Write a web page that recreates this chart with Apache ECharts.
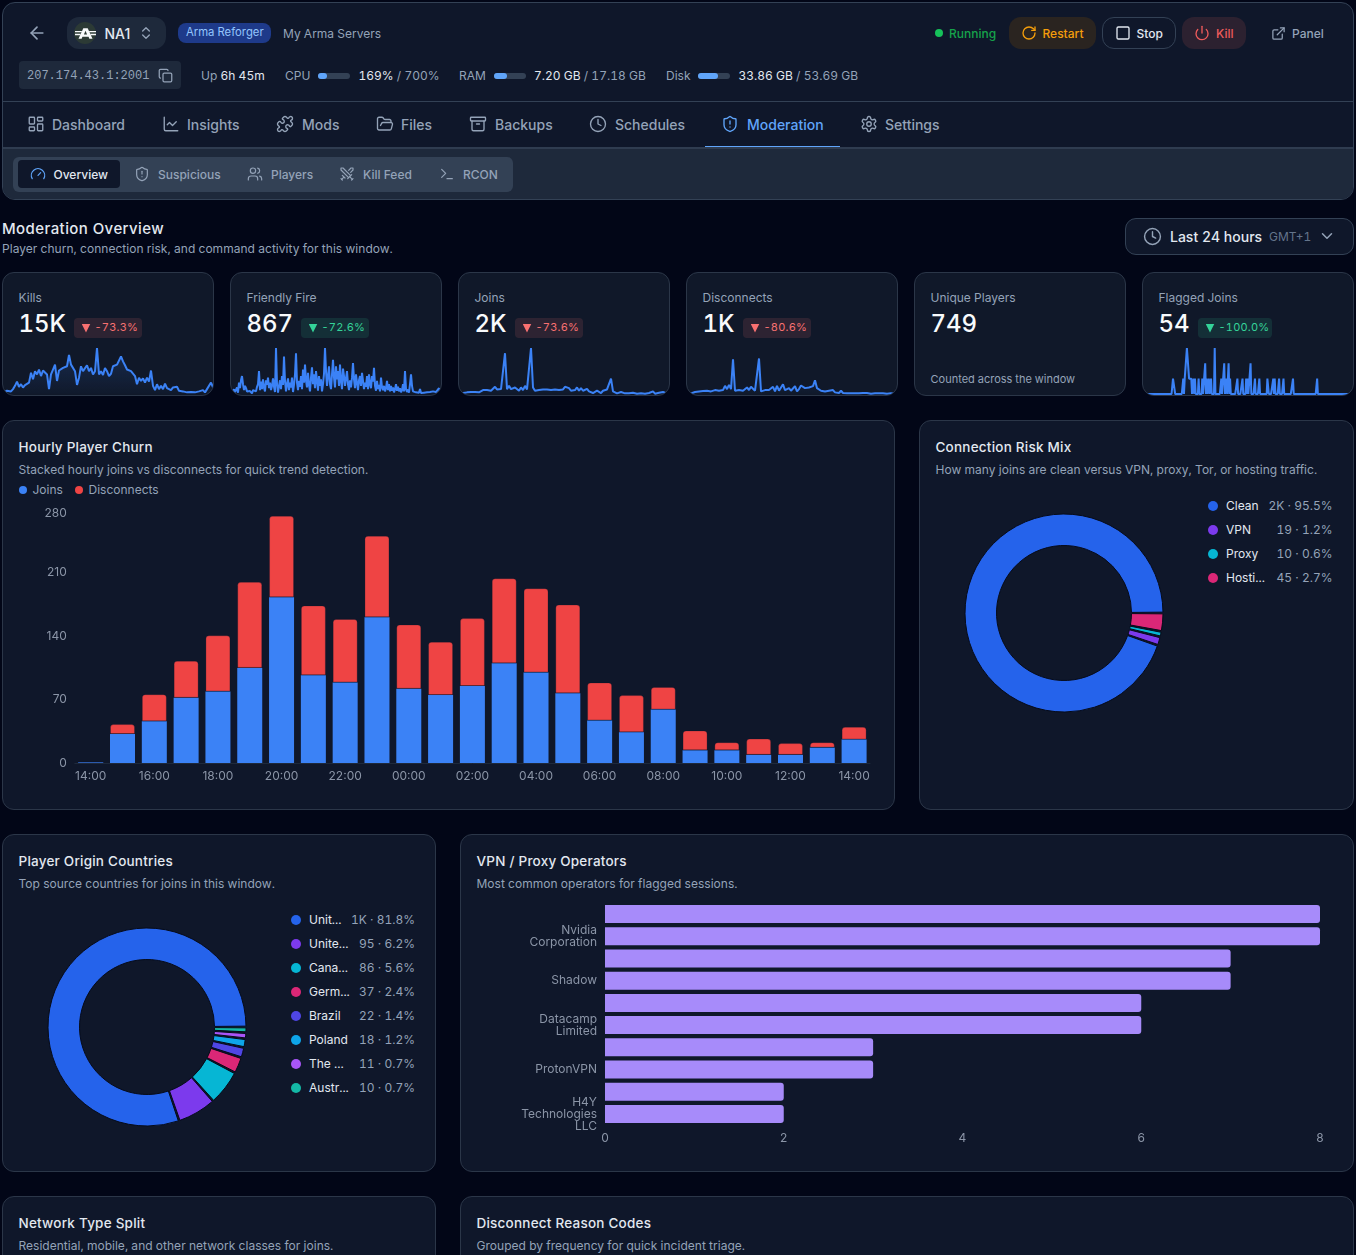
<!DOCTYPE html>
<html>
<head>
<meta charset="utf-8">
<script src="https://cdn.jsdelivr.net/npm/echarts@6/dist/echarts.min.js"></script>
<style>
html,body{margin:0;padding:0;background:#020617;width:1356px;height:1255px;overflow:hidden;font-family:Inter,"Noto Sans",sans-serif;}
#root{position:relative;width:1356px;height:1255px;overflow:hidden;}
.t{position:absolute;white-space:nowrap;transform:translateY(-50%);line-height:1.2;font-variant-numeric:tabular-nums;}
.b{position:absolute;box-sizing:border-box;}
.c{position:absolute;}
.card{position:absolute;box-sizing:border-box;background:#0f172a;border:1px solid #2b3648;border-radius:12px;overflow:hidden;}
svg.ic{position:absolute;fill:none;stroke-linecap:round;stroke-linejoin:round;stroke-width:2;}
</style>
</head>
<body>
<div id="root"></div>
<script>
/* ---------- chart values ---------- */
const churnHours = ['14:00','15:00','16:00','17:00','18:00','19:00','20:00','21:00','22:00','23:00','00:00','01:00','02:00','03:00','04:00','05:00','06:00','07:00','08:00','09:00','10:00','11:00','12:00','13:00','14:00'];
const churnJoins = [1,32,46,72,79,105,183,97,89,161,82,75,85,110,100,77,47,34,59,14,14,9,9,17,26];
const churnDisconnects = [0,11,30,41,62,95,90,77,70,90,71,59,75,94,93,98,42,41,25,22,9,18,13,6,14];
const churnTicks = [0,70,140,210,280];

const riskNames = ['Clean','VPN','Proxy','Hosting'];
const riskLabels = ['Clean','VPN','Proxy','Hosti...'];
const riskValues = [1570,19,10,45];
const riskShown = ['2K · 95.5%','19 · 1.2%','10 · 0.6%','45 · 2.7%'];
const riskColors = ['#2563eb','#7c3aed','#06b6d4','#db2777'];

const countryNames = ['United States','United Kingdom','Canada','Germany','Brazil','Poland','The Netherlands','Australia'];
const countryLabels = ['Unit...','Unite...','Cana...','Germ...','Brazil','Poland','The ...','Austr...'];
const countryValues = [1254,95,86,37,22,18,11,10];
const countryShown = ['1K · 81.8%','95 · 6.2%','86 · 5.6%','37 · 2.4%','22 · 1.4%','18 · 1.2%','11 · 0.7%','10 · 0.7%'];
const countryColors = ['#2563eb','#7c3aed','#06b6d4','#db2777','#4f46e5','#0ea5e9','#a855f7','#14b8a6'];

/* bottom to top; names the axis skips are not readable in the picture */
const operatorNames = ['H4Y\nTechnologies\nLLC','','ProtonVPN','','Datacamp\nLimited','','Shadow','','Nvidia\nCorporation',''];
const operatorValues = [2,2,3,3,6,6,7,7,8,8];
const operatorTicks = [0,2,4,6,8];

const sparkKills = [5,8,10,4,8,15,25,38,22,30,20,27,30,35,65,45,70,60,75,55,72,78,60,15,60,75,90,40,72,70,80,75,85,120,90,85,70,28,50,85,70,68,88,70,80,60,70,141,60,70,58,80,70,55,62,85,80,90,85,115,100,88,75,80,70,75,55,30,50,40,48,35,50,38,72,25,12,30,15,25,15,32,18,20,12,20,15,22,10,14,8,5,5,3,6,3,5,4,8,6,12,5,15,20,35,20];
const sparkFriendly = [3,5,2,14,6,3,20,4,35,18,42,55,30,12,25,18,8,14,3,9,5,2,12,6,16,8,22,30,70,12,38,15,45,20,8,42,28,50,18,35,12,25,48,22,6,141,30,4,25,42,15,55,28,115,40,8,30,48,12,35,20,50,6,28,60,125,35,12,40,22,55,15,75,35,90,42,20,65,28,8,50,82,30,60,18,70,40,10,55,25,45,8,30,62,141,70,25,55,85,30,15,60,105,50,20,85,45,70,25,90,40,15,78,55,25,48,70,30,12,42,20,50,95,45,18,60,35,12,42,55,25,65,40,15,35,22,55,15,60,30,18,55,38,80,25,10,40,15,28,8,50,20,12,25,8,18,40,12,30,8,25,10,20,5,15,30,10,22,8,18,5,12,30,8,70,15,6,14,4,30,60,25,8,12,3,5,2,10,4,15,3,6,2,4,8,2,5,3,2,6,2,4,8,3,2,6,3,10,18,6,10];
const sparkJoins = [2,2,3,3,5,8,6,5,6,10,5,8,12,8,12,6,10,8,22,14,12,15,18,125,15,25,15,12,20,14,10,20,12,25,14,18,141,20,10,4,12,8,14,10,14,8,12,6,14,8,12,18,14,22,22,18,10,16,12,20,10,18,10,6,16,8,4,3,6,10,5,3,10,5,14,8,47,8,3,2,1,6,2,2,4,2,3,4,2,1,1,2,1,1,1,3,2,8,1,2,4,8,6,3,2,1];
const sparkDisconnects = [1,2,2,3,6,5,8,4,9,5,10,6,8,5,12,15,10,14,12,25,15,28,15,106,10,5,12,15,10,14,20,12,22,18,10,8,109,8,4,12,8,12,10,22,8,25,10,8,30,12,8,18,10,14,24,8,15,26,22,18,15,20,18,24,42,18,24,10,14,8,5,10,6,12,5,8,3,10,3,4,2,3,2,4,2,1,2,1,3,5,3,2,1,4,2,3,2,4,2,3,1,1,2,1,1,1];
const flaggedBuckets = [41,42,43,55,57,58,59,60,61,62,63,64,65,66,69,71,76,81,85,87,90,93,98,107,111,114,117,119,129,136,141,143,147,153,159,170,171,178,180,186,192,205,238];
const flaggedCounts  = [1,1,1,1,1,1,1,3,3,3,1,1,1,1,1,1,1,1,2,1,1,1,3,1,2,1,2,1,1,1,1,1,2,1,1,1,1,1,1,1,1,1,1];

/* ---------- page chrome ---------- */
const root = document.getElementById('root');
const ICONS = {
 back:'<path d="m12 19-7-7 7-7"/><path d="M19 12H5"/>',
 updown:'<path d="m7 15 5 5 5-5"/><path d="m7 9 5-5 5 5"/>',
 copy:'<rect width="14" height="14" x="8" y="8" rx="2"/><path d="M4 16c-1.1 0-2-.9-2-2V4c0-1.1.9-2 2-2h10c1.1 0 2 .9 2 2"/>',
 rotate:'<path d="M21 12a9 9 0 1 1-9-9c2.52 0 4.93 1 6.74 2.74L21 8"/><path d="M21 3v5h-5"/>',
 square:'<rect width="18" height="18" x="3" y="3" rx="2"/>',
 power:'<path d="M12 2v10"/><path d="M18.4 6.6a9 9 0 1 1-12.77.04"/>',
 ext:'<path d="M15 3h6v6"/><path d="M10 14 21 3"/><path d="M18 13v6a2 2 0 0 1-2 2H5a2 2 0 0 1-2-2V8a2 2 0 0 1 2-2h6"/>',
 dash:'<rect width="7" height="9" x="3" y="3" rx="1"/><rect width="7" height="5" x="14" y="3" rx="1"/><rect width="7" height="9" x="14" y="12" rx="1"/><rect width="7" height="5" x="3" y="16" rx="1"/>',
 chart:'<path d="M3 3v16a2 2 0 0 0 2 2h16"/><path d="m19 9-5 5-4-4-3 3"/>',
 puzzle:'<path d="M19.439 7.85c-.049.322.059.648.289.878l1.568 1.568c.47.47.706 1.087.706 1.704s-.235 1.233-.706 1.704l-1.611 1.611a.98.98 0 0 1-.837.276c-.47-.07-.802-.48-.968-.925a2.501 2.501 0 1 0-3.214 3.214c.446.166.855.497.925.968a.979.979 0 0 1-.276.837l-1.61 1.61a2.404 2.404 0 0 1-1.705.707 2.402 2.402 0 0 1-1.704-.706l-1.568-1.568a1.026 1.026 0 0 0-.877-.29c-.493.074-.84.504-1.02.968a2.5 2.5 0 1 1-3.237-3.237c.464-.18.894-.527.967-1.02a1.026 1.026 0 0 0-.289-.877l-1.568-1.568A2.402 2.402 0 0 1 1.998 12c0-.617.236-1.234.706-1.704L4.23 8.77c.24-.24.581-.353.917-.303.515.077.877.528 1.073 1.01a2.5 2.5 0 1 0 3.259-3.259c-.482-.196-.933-.558-1.01-1.073-.05-.336.062-.676.303-.917l1.525-1.525A2.402 2.402 0 0 1 12 1.998c.617 0 1.234.236 1.704.706l1.568 1.568c.23.23.556.338.877.29.493-.074.84-.504 1.02-.968a2.5 2.5 0 1 1 3.237 3.237c-.464.18-.894.527-.967 1.02Z"/>',
 folder:'<path d="m6 14 1.5-2.9A2 2 0 0 1 9.24 10H20a2 2 0 0 1 1.94 2.5l-1.54 6a2 2 0 0 1-1.95 1.5H4a2 2 0 0 1-2-2V5a2 2 0 0 1 2-2h3.9a2 2 0 0 1 1.69.9l.81 1.2a2 2 0 0 0 1.67.9H18a2 2 0 0 1 2 2v2"/>',
 archive:'<rect width="20" height="5" x="2" y="3" rx="1"/><path d="M4 8v11a2 2 0 0 0 2 2h12a2 2 0 0 0 2-2V8"/><path d="M10 12h4"/>',
 clock:'<circle cx="12" cy="12" r="10"/><polyline points="12 6 12 12 16 14"/>',
 shield:'<path d="M20 13c0 5-3.5 7.5-7.66 8.95a1 1 0 0 1-.67-.01C7.5 20.5 4 18 4 13V6a1 1 0 0 1 1-1c2 0 4.5-1.2 6.24-2.72a1.17 1.17 0 0 1 1.52 0C14.51 3.81 17 5 19 5a1 1 0 0 1 1 1z"/><path d="M12 8v4"/><path d="M12 16h.01"/>',
 gear:'<path d="M12.22 2h-.44a2 2 0 0 0-2 2v.18a2 2 0 0 1-1 1.73l-.43.25a2 2 0 0 1-2 0l-.15-.08a2 2 0 0 0-2.73.73l-.22.38a2 2 0 0 0 .73 2.73l.15.1a2 2 0 0 1 1 1.72v.51a2 2 0 0 1-1 1.74l-.15.09a2 2 0 0 0-.73 2.73l.22.38a2 2 0 0 0 2.73.73l.15-.08a2 2 0 0 1 2 0l.43.25a2 2 0 0 1 1 1.73V20a2 2 0 0 0 2 2h.44a2 2 0 0 0 2-2v-.18a2 2 0 0 1 1-1.73l.43-.25a2 2 0 0 1 2 0l.15.08a2 2 0 0 0 2.73-.73l.22-.39a2 2 0 0 0-.73-2.73l-.15-.08a2 2 0 0 1-1-1.74v-.5a2 2 0 0 1 1-1.74l.15-.09a2 2 0 0 0 .73-2.73l-.22-.38a2 2 0 0 0-2.73-.73l-.15.08a2 2 0 0 1-2 0l-.43-.25a2 2 0 0 1-1-1.73V4a2 2 0 0 0-2-2z"/><circle cx="12" cy="12" r="3"/>',
 gauge:'<path d="m12 14 4-4"/><path d="M3.34 19a10 10 0 1 1 17.32 0"/>',
 users:'<path d="M16 21v-2a4 4 0 0 0-4-4H6a4 4 0 0 0-4 4v2"/><circle cx="9" cy="7" r="4"/><path d="M22 21v-2a4 4 0 0 0-3-3.87"/><path d="M16 3.13a4 4 0 0 1 0 7.75"/>',
 swords:'<polyline points="14.5 17.5 3 6 3 3 6 3 17.5 14.5"/><line x1="13" x2="19" y1="19" y2="13"/><line x1="16" x2="20" y1="16" y2="20"/><line x1="19" x2="21" y1="21" y2="19"/><polyline points="14.5 6.5 18 3 21 3 21 6 17.5 9.5"/><line x1="5" x2="9" y1="14" y2="18"/><line x1="7" x2="4" y1="17" y2="20"/><line x1="3" x2="5" y1="19" y2="21"/>',
 term:'<polyline points="4 17 10 11 4 5"/><line x1="12" x2="20" y1="19" y2="19"/>',
 chev:'<path d="m6 9 6 6 6-6"/>',
 logo:'<path fill="#f8fafc" stroke="none" d="M9.5 6h5l5.5 12h-3.6l-.9-2.2H8.5L7.6 18H4zM10.2 13h3.6L12 8.8zM0 9h8l-.8 1.7H0zM24 9h-8l.8 1.7H24zM0 12.3h6.4l-.8 1.7H0zM24 12.3h-6.4l.8 1.7H24z"/>'
};
function el(tag,cls,css,parent){const e=document.createElement(tag);if(cls)e.className=cls;e.style.cssText=css||'';(parent||root).appendChild(e);return e;}
function T(x,y,text,size,color,extra,parent){const e=el('div','t',`left:${x}px;top:${y}px;font-size:${size}px;color:${color};${extra||''}`,parent);e.textContent=text;return e;}
function I(name,cx,cy,s,color,sw){const ns='http://www.w3.org/2000/svg';const v=document.createElementNS(ns,'svg');v.setAttribute('class','ic');v.setAttribute('viewBox','0 0 24 24');v.setAttribute('width',s);v.setAttribute('height',s);v.style.cssText=`left:${cx-s/2}px;top:${cy-s/2}px;stroke:${color};stroke-width:${sw||2};`;v.innerHTML=ICONS[name];root.appendChild(v);}
function B(x,y,w,h,css){return el('div','b',`left:${x}px;top:${y}px;width:${w}px;height:${h}px;${css||''}`);}

const MUTED='#94a3b8', LIGHT='#e2e8f0', WHITE='#f8fafc';
/* header card */
B(2,2,1352,198,'background:#0f172a;border:1px solid #334155;border-radius:13px;');
B(3,147,1350,52,'background:#1e293b;border-radius:0 0 12px 12px;border-top:2px solid #2f3c50;');
B(3,101,1350,1,'background:#334155;');
I('back',37,33,20,MUTED);
B(67,17,99,32,'background:#1e293b;border-radius:12px;');
B(74,22,22,22,'background:#2c3a35;border-radius:50%;');
I('logo',85,33,21,'#f8fafc');
T(104.5,33.5,'NA1',14,LIGHT,'font-weight:500;font-variant-numeric:normal;');
I('updown',146,33,16,MUTED);
B(178,23,93,20,'background:#1e3a8a;border-radius:8px;');
T(186,33.3,'Arma Reforger',11.3,'#93c5fd');
T(283,33.5,'My Arma Servers',12,MUTED);
B(939-4,33-4,8,8,'background:#16c25a;border-radius:50%;');
T(949,33.5,'Running',12,'#16a34a','font-weight:500;');
B(1009,17,87,32,'background:#2a2420;border-radius:12px;');
I('rotate',1029,33,16,'#f59e0b');
T(1042.5,33.5,'Restart',12,'#f59e0b','font-weight:500;');
B(1102,17,74,32,'background:#0f172a;border:1px solid #334155;border-radius:12px;');
I('square',1123,33,16,LIGHT);
T(1136.5,33.5,'Stop',12,LIGHT,'font-weight:500;');
B(1182,17,64,32,'background:#2c2130;border-radius:12px;');
I('power',1202,33,16,'#ef5b5b');
T(1216,33.5,'Kill',12,'#ef5b5b','font-weight:500;');
I('ext',1278,33,15,MUTED);
T(1292,33.5,'Panel',12,MUTED,'font-weight:500;');

B(19,61,162,28,'background:#1e293b;border-radius:4px;');
T(27,75.5,'207.174.43.1:2001',12,MUTED,'font-family:"Liberation Mono","DejaVu Sans Mono",monospace;');
I('copy',165,75.5,15,MUTED);
function html(x,y,parts){const e=T(x,y,'',12,MUTED);parts.forEach(p=>{const s=document.createElement('span');s.textContent=p[0];s.style.color=p[1];e.appendChild(s);});}
html(201,75.5,[['Up ',MUTED],['6h 45m',LIGHT]]);
T(285,75.5,'CPU',12,MUTED);
function meter(x,w){B(x,73,32,6,'background:#334155;border-radius:3px;');B(x,73,w,6,'background:#60a5fa;border-radius:3px;');}
meter(318,9);
html(358.5,75.5,[['169%',LIGHT],[' / 700%',MUTED]]);
T(459,75.5,'RAM',12,MUTED);
meter(494,13);
html(534,75.5,[['7.20 GB',LIGHT],[' / 17.18 GB',MUTED]]);
T(666,75.5,'Disk',12,MUTED);
meter(698,20);
html(738.5,75.5,[['33.86 GB',LIGHT],[' / 53.69 GB',MUTED]]);

/* main nav */
const navItems=[['dash',36,52,'Dashboard'],['chart',171,187,'Insights'],['puzzle',285,302,'Mods'],['folder',385,401,'Files'],['archive',478,495,'Backups'],['clock',598,615,'Schedules'],['shield',730,747,'Moderation'],['gear',869,885,'Settings']];
navItems.forEach(n=>{const c=n[3]==='Moderation'?'#60a5fa':MUTED;I(n[0],n[1],124,18,c,1.8);T(n[2],125,n[3],14,c,'font-weight:500;');});
B(705,145.5,135,1.5,'background:#60a5fa;');
/* sub nav */
B(13,157,500,35,'background:#334155;border-radius:6px;');
B(18,160,102,28,'background:#0f172a;border-radius:4px;');
const subItems=[['gauge',38,53.5,'Overview'],['shield',142,158,'Suspicious'],['users',255,271,'Players'],['swords',347,363,'Kill Feed'],['term',447,463,'RCON']];
subItems.forEach(n=>{const on=n[3]==='Overview';I(n[0],n[1],174,16,on?'#60a5fa':MUTED,1.8);T(n[2],174.5,n[3],12,on?LIGHT:MUTED,'font-weight:500;');});

/* section head */
T(2,228.5,'Moderation Overview',15,LIGHT,'font-weight:500;letter-spacing:.42px;');
T(2,249,'Player churn, connection risk, and command activity for this window.',12,MUTED,'letter-spacing:.03px;');
B(1125,218,229,37,'background:#0f172a;border:1px solid #334155;border-radius:11px;');
I('clock',1152,236.5,19,MUTED,1.8);
T(1170,237,'Last 24 hours',14,LIGHT,'font-weight:500;');
T(1269,237,'GMT+1',12,'#64748b');
I('chev',1327,236,18,MUTED);

/* KPI cards */
const RED='#f87171', GREEN='#34d399';
const kpis=[
 {x:2,label:'Kills',value:'15K',delta:'-73.3%',col:RED,bx:74,bw:68,spark:sparkKills,max:141},
 {x:230,label:'Friendly Fire',value:'867',delta:'-72.6%',col:GREEN,bx:301,bw:68,spark:sparkFriendly,max:141},
 {x:458,label:'Joins',value:'2K',delta:'-73.6%',col:RED,bx:515,bw:68,spark:sparkJoins,max:141},
 {x:686,label:'Disconnects',value:'1K',delta:'-80.6%',col:RED,bx:743,bw:68,spark:sparkDisconnects,max:141},
 {x:914,label:'Unique Players',value:'749'},
 {x:1142,label:'Flagged Joins',value:'54',delta:'-100.0%',col:GREEN,bx:1198,bw:74,spark:flaggedBuckets,max:3,flag:true}
];
kpis.forEach(k=>{
 const card=el('div','card',`left:${k.x}px;top:272px;width:212px;height:124px;background:#101829;`);
 T(k.x+16.5,298,k.label,12,MUTED);
 T(k.x+16.5,323.5,k.value,24,WHITE,'font-weight:500;');
 if(k.delta){
  const bg=k.col===RED?'rgba(248,113,113,.13)':'rgba(52,211,153,.13)';
  B(k.bx,318,k.bw,20,`background:${bg};border-radius:4px;`);
  B(k.bx+7.5,323.5,9,9,`background:${k.col};clip-path:polygon(0 0,100% 0,50% 100%);`);
  T(k.bx+20.5,328,k.delta,11,k.col,'letter-spacing:.2px;');
 }else{
  T(k.x+16.5,379.5,'Counted across the window',11,MUTED);
 }
 if(k.spark){
  k.el=el('div','c','left:0;right:0;bottom:0;height:48px;',card);
 }
});

/* panels */
function panel(x,y,w,h,title,sub){
 B(x,y,w,h,'background:#0f172a;border:1px solid #2b3648;border-radius:12px;');
 T(x+16.5,y+27,title,13.5,LIGHT,'font-weight:500;letter-spacing:.22px;');
 T(x+16.5,y+49.5,sub,12,MUTED,'letter-spacing:.02px;');
}
panel(2,420,893,390,'Hourly Player Churn','Stacked hourly joins vs disconnects for quick trend detection.');
panel(919,420,435,390,'Connection Risk Mix','How many joins are clean versus VPN, proxy, Tor, or hosting traffic.');
panel(2,834,434,338,'Player Origin Countries','Top source countries for joins in this window.');
panel(460,834,894,338,'VPN / Proxy Operators','Most common operators for flagged sessions.');
panel(2,1196,434,120,'Network Type Split','Residential, mobile, and other network classes for joins.');
panel(460,1196,894,120,'Disconnect Reason Codes','Grouped by frequency for quick incident triage.');

B(19,485.5,8,8,'background:#3b82f6;border-radius:50%;');
T(32.5,490,'Joins',12,MUTED);
B(75,485.5,8,8,'background:#ef4444;border-radius:50%;');
T(88.5,490,'Disconnects',12,MUTED);

function legend(dotX,textX,rightX,y0,labels,shown,colors){
 labels.forEach((n,i)=>{
  const y=y0+24*i;
  B(dotX-5,y-5,10,10,`background:${colors[i]};border-radius:50%;`);
  T(textX,y+.5,n,12,LIGHT);
  const v=T(0,y+.5,shown[i],12,MUTED);
  v.style.left='auto';v.style.right=(1356-rightX)+'px';
 });
}
legend(1213,1226,1332.5,505.5,riskLabels,riskShown,riskColors);
legend(296,309,415,919.5,countryLabels,countryShown,countryColors);

/* ---------- charts ---------- */
const FONT='Inter, "Noto Sans", sans-serif';
function host(x,y,w,h){return echarts.init(el('div','c',`left:${x}px;top:${y}px;width:${w}px;height:${h}px;`));}

kpis.forEach(k=>{
 if(!k.el) return;
 let cats, vals;
 if(k.flag){
  cats=Array.from({length:288},(_,i)=>i);
  vals=cats.map(()=>0);
  flaggedBuckets.forEach((b,i)=>{vals[b]=flaggedCounts[i];});
 }else{
  cats=k.spark.map((_,i)=>i);
  vals=k.spark;
 }
 echarts.init(k.el).setOption({
  animation:false,
  grid:{left:0,right:0,top:1,bottom:1},
  xAxis:{type:'category',data:cats,boundaryGap:false,show:false},
  yAxis:{type:'value',min:0,max:k.max,show:false},
  series:[{type:'line',data:vals,symbol:'none',silent:true,clip:false,
   lineStyle:{color:'#3b82f6',width:2},
   areaStyle:{color:new echarts.graphic.LinearGradient(0,0,0,1,[{offset:0,color:'rgba(59,130,246,.28)'},{offset:1,color:'rgba(59,130,246,.02)'}])}}]
 });
});

/* hourly churn */
host(3,500,891,290).setOption({
 animation:false,
 grid:{left:71.8,width:795.2,top:9.4,height:253.6},
 xAxis:{type:'category',data:churnHours,
  axisLine:{lineStyle:{color:'#1e293b'}},axisTick:{show:false},
  axisLabel:{interval:1,color:'#8b95a7',fontSize:12,fontFamily:FONT,margin:7}},
 yAxis:{type:'value',min:churnTicks[0],max:churnTicks[churnTicks.length-1],interval:70,
  axisLine:{show:false},axisTick:{show:false},splitLine:{show:false},
  axisLabel:{color:'#8b95a7',fontSize:12,fontFamily:FONT,margin:8,
   formatter:v=>v===280?'{top|280}':String(v),
   rich:{top:{color:'#8b95a7',fontSize:12,fontFamily:FONT,padding:[8,0,0,0]}}}},
 series:[
  {name:'Joins',type:'bar',stack:'churn',data:churnJoins,barWidth:25,itemStyle:{color:'#3b82f6'}},
  {name:'Disconnects',type:'bar',stack:'churn',data:churnDisconnects,barWidth:25,
   itemStyle:{color:'#ef4444',borderRadius:[3,3,0,0],borderColor:'rgba(15,23,42,.25)',borderWidth:1}}
 ]
});

function donut(cx,cy,names,values,colors){
 const s=210;
 /* padAngle takes its 1° out of each slice; each value gets the share of one degree back so slices keep their size */
 const total=values.reduce((a,b)=>a+b,0);
 const oneDegree=total/(360-values.length);
 host(cx-s/2,cy-s/2,s,s).setOption({
  animation:false,
  series:[{type:'pie',center:[s/2,s/2],radius:[67.5,99],startAngle:0,clockwise:false,silent:true,padAngle:1,
   label:{show:false},labelLine:{show:false},
   itemStyle:{borderColor:'#060b1a',borderWidth:1},
   data:names.map((n,i)=>({name:n,value:values[i]+oneDegree,itemStyle:{color:colors[i]}}))}]
 });
}
donut(1064,612.7,riskNames,riskValues,riskColors);
donut(147,1027.3,countryNames,countryValues,countryColors);

/* operators */
host(461,895,892,265).setOption({
 animation:false,
 grid:{left:144,width:715,top:8,height:222},
 xAxis:{type:'value',min:0,max:8,interval:2,
  axisLine:{show:false},axisTick:{show:false},splitLine:{show:false},
  axisLabel:{color:'#8b95a7',fontSize:12,fontFamily:FONT,margin:7}},
 yAxis:{type:'category',data:operatorNames,
  axisLine:{show:false},axisTick:{show:false},
  axisLabel:{interval:1,color:'#8b95a7',fontSize:12,fontFamily:FONT,margin:8,lineHeight:12}},
 series:[{type:'bar',data:operatorValues,barWidth:18,itemStyle:{color:'#a78bfa',borderRadius:[0,3,3,0]}}]
});
</script>
</body>
</html>
